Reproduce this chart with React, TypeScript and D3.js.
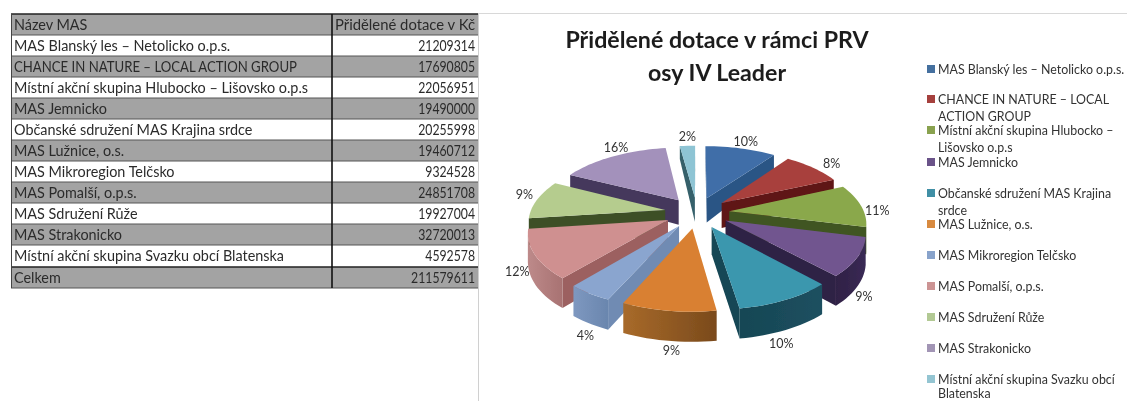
import React from "react";
import * as d3 from "d3";

const names = ["MAS Blanský les – Netolicko o.p.s.","CHANCE IN NATURE – LOCAL ACTION GROUP","Místní akční skupina Hlubocko – Lišovsko o.p.s","MAS Jemnicko","Občanské sdružení MAS Krajina srdce","MAS Lužnice, o.s.","MAS Mikroregion Telčsko","MAS Pomalší, o.p.s.","MAS Sdružení Růže","MAS Strakonicko","Místní akční skupina Svazku obcí Blatenska"];
const values = [21209314,17690805,22056951,19490000,20255998,19460712,9324528,24851708,19927004,32720013,4592578];
const total = 211579611;
const pctLabels = ["10%","8%","11%","9%","10%","9%","4%","12%","9%","16%","2%"];
const legendLines = [["MAS Blanský les – Netolicko o.p.s."],["CHANCE  IN NATURE  – LOCAL","ACTION GROUP"],["Místní akční skupina Hlubocko –","Lišovsko o.p.s"],["MAS Jemnicko"],["Občanské sdružení MAS Krajina","srdce"],["MAS Lužnice, o.s."],["MAS Mikroregion Telčsko"],["MAS Pomalší, o.p.s."],["MAS Sdružení Růže"],["MAS Strakonicko"],["Místní akční skupina Svazku obcí","Blatenska"]];
const legendY = [69,99,130,162,193,224,255,286,317,348,379];
const topColors = ["#3f6ea8","#a8403c","#8aa84c","#71558f","#3a97ae","#d98030","#8aa5cf","#cf9090","#b5cc8e","#a391bb","#8ec4d4"];
const radialColors = ["#2b5585","#5e1313","#3f5420","#2f2045","#144654","#8a5220","#6f8bb3","#9c6060","#3c5028","#45395c","#35606a"];
const outerLeft = ["#2b5585","#5e1313","#3f5420","#2f2045","#164654","#a86a2a","#7e98c0","#bd8a8a","#3c5028","#45395c","#35606a"];
const outerRight = ["#2b5585","#5e1313","#3f5420","#3a2a55","#1d5060","#7a4a1c","#6a86ae","#a87272","#3c5028","#45395c","#35606a"];
const legendColors = ["#44709f","#a5413e","#89a24f","#6b5389","#3f8fa5","#d88a3f","#88a3cb","#cc9494","#b2c994","#a295b5","#94c5d2"];
const labelNudge = [[0,-1],[5,1],[-4,8],[-15,20],[-17,8],[7,0],[11,9],[4,-2],[7,-2],[13,-4],[1,-3]];

const cx = 697, cy = 212.5, R = 135, A = 64.5, p = 0.158, explode = 0.24;
const project = (u: number, v: number) => {
  const s = 1 / (1 - p * v);
  return [cx + u * R * s, cy + v * A * s] as [number, number];
};
const depth = (v: number) => 26 + 7 * v - 3 * v * v;

const font = "Lato, Carlito, sans-serif";
const rowEdges = [14,35,56,77,98,119,140,161,182,203,224,245,267,288];
const tableRows = [["Název MAS","Přidělené dotace v Kč"],...names.map((n,i)=>[n,String(values[i])]),["Celkem",String(total)]];

export default function App() {
  const arcs = d3.pie<number>().sort(null).value(d=>d)(values);
  const angleScale = d3.scaleLinear().domain([0,1]);
  const slices = arcs.map((a,i)=>{
    const mid=(a.startAngle+a.endAngle)/2;
    const ou=Math.sin(mid)*explode, ov=-Math.cos(mid)*explode;
    const n=Math.max(4,Math.ceil((a.endAngle-a.startAngle)/0.04));
    angleScale.range([a.startAngle,a.endAngle]);
    const rim=d3.range(n+1).map(k=>{const t=angleScale(k/n);return [ou+Math.sin(t),ov-Math.cos(t)] as [number,number];});
    const ring:[number,number][]=[[ou,ov],...rim];
    return {i,mid,ou,ov,ring,rim};
  }).sort((a,b)=>(-Math.cos(a.mid))-(-Math.cos(b.mid)));
  const line=d3.line();
  const bottom=(q:[number,number]):[number,number]=>{const t=project(q[0],q[1]);return [t[0],t[1]+depth(q[1])];};
  const labelPos=(i:number,mid:number,ou:number,ov:number)=>{
    const rr=1.08;
    const q=project(ou+Math.sin(mid)*rr*1.07,ov-Math.cos(mid)*rr);
    const extra=-Math.cos(mid)>0?depth(-Math.cos(mid))*(-Math.cos(mid))+3:-1;
    return [q[0]+labelNudge[i][0],q[1]+extra+labelNudge[i][1]];
  };
  return (
    <svg width={1127} height={401} style={{position:"absolute",left:0,top:0,background:"#fff"}} fontFamily={font}>
      <defs>
        <filter id="soft"><feGaussianBlur stdDeviation="0.35"/></filter>
        {values.map((_,i)=>(
          <linearGradient key={i} id={"wall"+i} x1="0" x2="1" y1="0" y2="0">
            <stop offset="0" stopColor={outerLeft[i]}/><stop offset="1" stopColor={outerRight[i]}/>
          </linearGradient>
        ))}
      </defs>
      <g filter="url(#soft)">
      {d3.range(tableRows.length).map(r=>(
        <rect key={r} x={11} y={rowEdges[r]} width={467} height={rowEdges[r+1]-rowEdges[r]} fill={r%2===0?"#a3a3a3":"#fff"}/>
      ))}
      {rowEdges.map((y,r)=>(
        <line key={r} x1={11} x2={478} y1={y} y2={y} stroke={r===0||r===12?"#222":"#555"} strokeWidth={r===0||r===12?1.3:1}/>
      ))}
      <line x1={11.5} x2={11.5} y1={14} y2={288} stroke="#444"/>
      <line x1={332} x2={332} y1={14} y2={288} stroke="#111" strokeWidth={1.6}/>
      <line x1={478.5} x2={478.5} y1={14} y2={401} stroke="#d0d0d0"/>
      <line x1={478} x2={1127} y1={13.5} y2={13.5} stroke="#d8d8d8"/>
      {tableRows.map((row,r)=>{
        const isCaps=r===2;
        const isHead=r===0;
        return (
        <g key={r} fontSize={14.4} fill="#2c2c2c">
          <text x={14} y={rowEdges[r]+16} {...(isCaps?{textLength:283,lengthAdjust:"spacingAndGlyphs"}:{})}>{row[0]}</text>
          <text x={475} y={rowEdges[r]+16} textAnchor="end" textLength={isHead?140:row[1].length*7.1} lengthAdjust="spacingAndGlyphs">{row[1]}</text>
        </g>
      );})}
      <text x={717} y={48} textAnchor="middle" fontSize={23.2} fontWeight={700} fill="#1c1c1c">Přidělené dotace v rámci PRV</text>
      <text x={717} y={81} textAnchor="middle" fontSize={23.2} fontWeight={700} fill="#1c1c1c">osy IV Leader</text>
      {slices.map(s=>{
        const P=s.ring.map(q=>project(q[0],q[1]));
        const walls:React.ReactNode[]=[];
        const n=s.ring.length;
        const rimWall:[number,number][]=[];
        for(let k=0;k<n;k++){
          const a=s.ring[k],b=s.ring[(k+1)%n];
          const pa=project(a[0],a[1]),pb=project(b[0],b[1]);
          if(pb[0]-pa[0]<0){
            const isRadial=k===0||k===n-1;
            if(isRadial){
              const quad=[pa,pb,bottom(b),bottom(a)];
              walls.push(<path key={k} d={line(quad as [number,number][])+"Z"} fill={radialColors[s.i]}/>);
            } else {
              if(!rimWall.length) rimWall.push(a);
              rimWall.push(b);
            }
          }
        }
        const rimPath=rimWall.length?[...rimWall.map(q=>project(q[0],q[1])),...rimWall.slice().reverse().map(bottom)]:null;
        return <g key={s.i}>{walls}{rimPath&&<path d={line(rimPath)+"Z"} fill={`url(#wall${s.i})`}/>}<path d={line(P)+"Z"} fill={topColors[s.i]}/></g>;
      })}
      {slices.map(s=>{
        const [x,y]=labelPos(s.i,s.mid,s.ou,s.ov);
        return <text key={s.i} x={x} y={y} textAnchor="middle" dominantBaseline="middle" fontSize={12.5} fill="#333">{pctLabels[s.i]}</text>;
      })}
      {legendLines.map((ls,i)=>(
        <g key={i}>
          <rect x={927} y={legendY[i]-4} width={8} height={8} fill={legendColors[i]}/>
          {ls.map((t,j)=>(
            <text key={j} x={938} y={legendY[i]+j*(i===10?14.5:17)+4.5} fontSize={12.4} fill="#333">{t}</text>
          ))}
        </g>
      ))}
      </g>
    </svg>
  );
}
